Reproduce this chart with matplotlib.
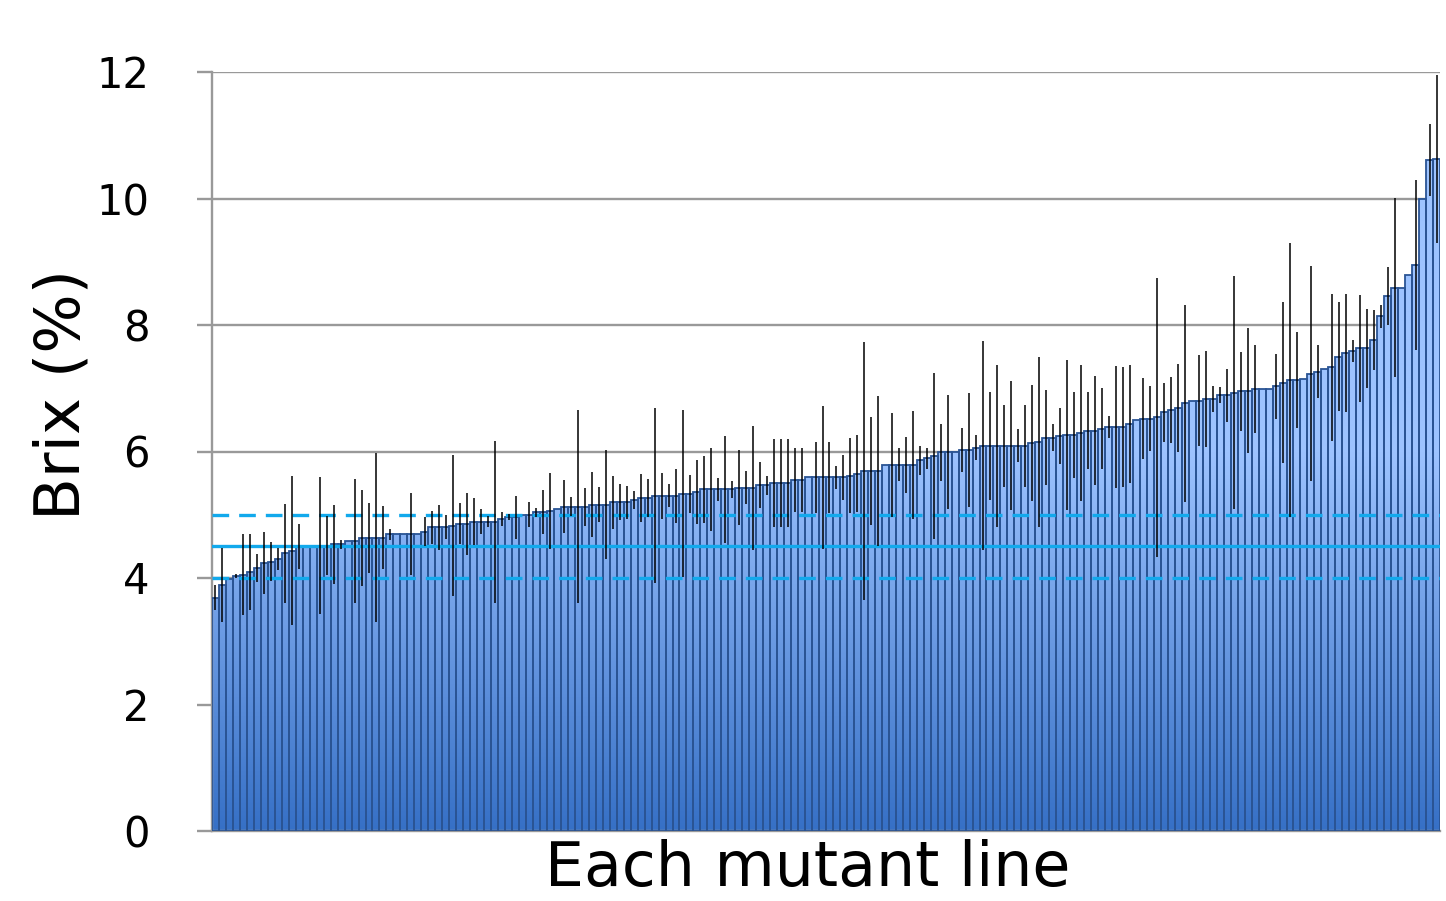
import numpy as np
import matplotlib
matplotlib.use("Agg")
import matplotlib.pyplot as plt
from matplotlib.path import Path
from matplotlib.patches import PathPatch
from matplotlib.colors import LinearSegmentedColormap

# Brix (%) of each mutant line, sorted ascending, and its standard deviation
brix = [3.69, 3.89, 3.98, 4.03, 4.05, 4.09, 4.16, 4.24, 4.26, 4.30,
        4.39, 4.43, 4.50, 4.50, 4.50, 4.51, 4.51, 4.53, 4.53, 4.59,
        4.59, 4.63, 4.63, 4.64, 4.64, 4.69, 4.69, 4.69, 4.69, 4.69,
        4.73, 4.80, 4.80, 4.80, 4.83, 4.86, 4.86, 4.89, 4.89, 4.89,
        4.89, 4.93, 4.96, 4.96, 5.00, 5.00, 5.04, 5.04, 5.06, 5.09,
        5.13, 5.13, 5.13, 5.13, 5.16, 5.16, 5.16, 5.20, 5.20, 5.20,
        5.23, 5.27, 5.27, 5.30, 5.30, 5.30, 5.30, 5.33, 5.33, 5.36,
        5.40, 5.40, 5.40, 5.40, 5.40, 5.43, 5.43, 5.43, 5.47, 5.47,
        5.50, 5.50, 5.50, 5.55, 5.55, 5.59, 5.59, 5.59, 5.59, 5.59,
        5.59, 5.62, 5.65, 5.69, 5.69, 5.69, 5.79, 5.79, 5.79, 5.79,
        5.79, 5.86, 5.89, 5.93, 5.99, 5.99, 5.99, 6.02, 6.02, 6.06,
        6.09, 6.09, 6.09, 6.09, 6.09, 6.09, 6.09, 6.13, 6.15, 6.22,
        6.22, 6.25, 6.26, 6.26, 6.29, 6.33, 6.33, 6.36, 6.39, 6.39,
        6.39, 6.43, 6.50, 6.52, 6.52, 6.54, 6.62, 6.65, 6.69, 6.76,
        6.80, 6.80, 6.83, 6.83, 6.89, 6.89, 6.93, 6.95, 6.96, 6.99,
        6.99, 6.99, 7.03, 7.09, 7.13, 7.13, 7.15, 7.23, 7.26, 7.30,
        7.33, 7.50, 7.56, 7.59, 7.63, 7.63, 7.76, 8.14, 8.46, 8.59,
        8.59, 8.79, 8.95, 10.00, 10.61, 10.63]

sd = [0.20, 0.59, 0.00, 0.03, 0.64, 0.60, 0.22, 0.49, 0.31, 0.18,
      0.78, 1.18, 0.36, 0.00, 0.00, 1.08, 0.47, 0.63, 0.07, 0.00,
      0.98, 0.76, 0.55, 1.34, 0.50, 0.09, 0.00, 0.00, 0.65, 0.00,
      0.23, 0.26, 0.36, 0.19, 1.11, 0.32, 0.49, 0.37, 0.20, 0.09,
      1.28, 0.11, 0.05, 0.34, 0.00, 0.20, 0.07, 0.35, 0.60, 0.00,
      0.42, 0.15, 1.52, 0.30, 0.51, 0.28, 0.86, 0.42, 0.29, 0.26,
      0.14, 0.38, 0.30, 1.38, 0.36, 0.18, 0.43, 1.32, 0.30, 0.51,
      0.53, 0.65, 0.18, 0.85, 0.14, 0.59, 0.26, 0.98, 0.36, 0.15,
      0.70, 0.70, 0.70, 0.50, 0.50, 0.00, 0.56, 1.13, 0.56, 0.18,
      0.35, 0.60, 0.61, 2.04, 0.85, 1.19, 0.00, 0.82, 0.26, 0.44,
      0.85, 0.23, 0.17, 1.31, 0.45, 0.90, 0.00, 0.35, 0.90, 0.20,
      1.65, 0.85, 1.28, 0.65, 1.02, 0.26, 0.65, 0.92, 1.34, 0.75,
      0.21, 0.44, 1.19, 0.68, 1.08, 0.61, 0.86, 0.64, 0.17, 0.96,
      0.95, 0.93, 0.00, 0.64, 0.51, 2.21, 0.47, 0.52, 0.70, 1.56,
      0.00, 0.72, 0.76, 0.20, 0.13, 0.42, 1.84, 0.63, 0.99, 0.69,
      0.00, 0.00, 0.51, 1.27, 2.16, 0.76, 0.00, 1.70, 0.42, 0.00,
      1.16, 0.86, 0.93, 0.17, 0.85, 0.63, 0.47, 0.18, 0.46, 1.42,
      0.00, 0.00, 1.34, 0.00, 0.57, 1.33]

# reference: mean of the wild type and its range
wt_mean = 4.5
wt_range = [4.0, 5.0]

yticks = [0, 2, 4, 6, 8, 10, 12]

x = np.arange(len(brix))

fig = plt.figure(figsize=(14.46, 9.01), dpi=100)
ax = fig.add_axes([212 / 1446, 1 - 831 / 901, 1228 / 1446, 759 / 901])

grid_gray = "#999999"
ax.set_axisbelow(True)
ax.yaxis.grid(True, color=grid_gray, lw=1.7, zorder=0)

bars = ax.bar(x, brix, width=1.0, facecolor="none", edgecolor="#2A5494",
              lw=1.3, zorder=3)

# gradient fill clipped to the bars
paths = [b.get_path().transformed(b.get_patch_transform()) for b in bars]
clip = PathPatch(Path.make_compound_path(*paths), facecolor="none",
                 edgecolor="none", transform=ax.transData)
ax.add_patch(clip)
grad = np.clip(np.linspace(0, 12, 600) / 6.0, 0, 1).reshape(-1, 1)
cmap = LinearSegmentedColormap.from_list("bars", ["#3670C6", "#9DC3FF"])
im = ax.imshow(grad, extent=[-0.5, len(brix) - 0.5, 0, 12], origin="lower",
               aspect="auto", cmap=cmap, vmin=0, vmax=1, zorder=2,
               interpolation="bilinear")
im.set_clip_path(clip)

# reference lines
ax.axhline(wt_mean, color="#12A9EC", lw=2.4, zorder=4)
for v in wt_range:
    ax.axhline(v, color="#12A9EC", lw=2.4, ls=(0, (5, 3)), zorder=4)

# error bars
ax.errorbar(x, brix, yerr=sd, fmt="none", ecolor="black", elinewidth=1.1,
            capsize=0, zorder=5)

ax.set_xlim(-0.5, len(brix) - 0.5)
ax.set_ylim(0, 12)
ax.set_yticks(yticks)
ax.set_yticklabels([str(t) for t in yticks])
ax.set_xticks([])

for s in ["top", "right"]:
    ax.spines[s].set_visible(False)
ax.spines["left"].set_color(grid_gray)
ax.spines["left"].set_linewidth(1.7)
ax.spines["bottom"].set_color(grid_gray)
ax.spines["bottom"].set_linewidth(1.7)

ax.tick_params(axis="y", direction="out", length=11, width=1.7,
               color=grid_gray, labelsize=30, pad=34)

fig.text(62 / 1446, 1 - 395 / 901, "Brix (%)", rotation=90, fontsize=45,
         ha="center", va="center")
fig.text(808 / 1446, 1 - 886 / 901, "Each mutant line", fontsize=44.5,
         ha="center", va="baseline")

fig.savefig("out.png", dpi=100)
